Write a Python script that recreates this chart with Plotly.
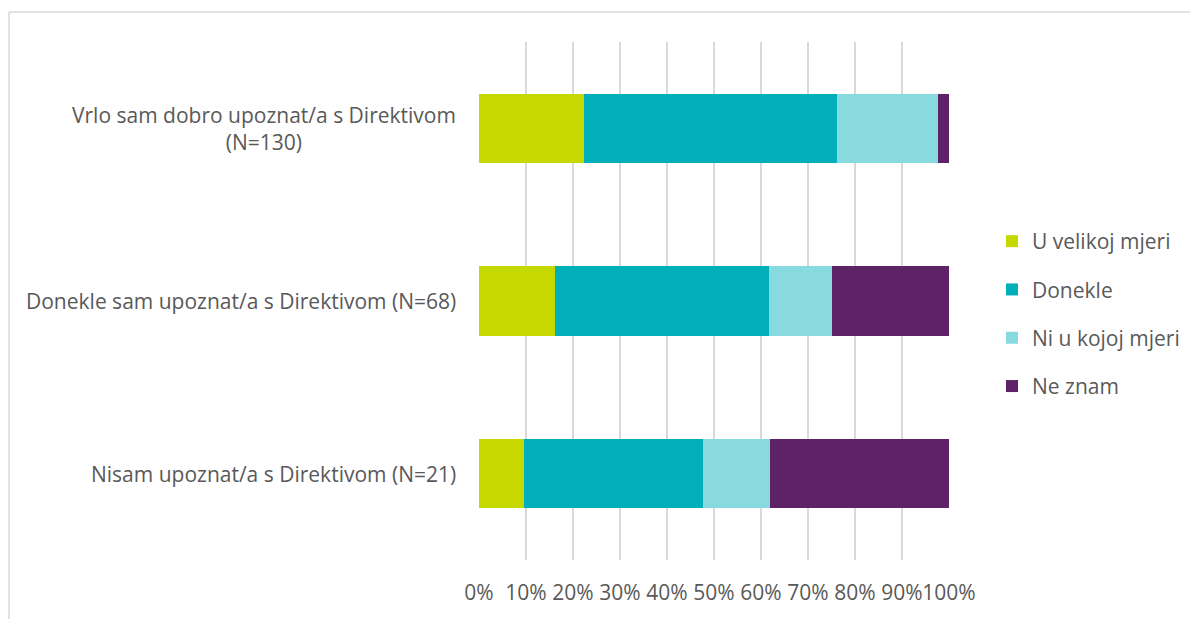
import plotly.graph_objects as go

categories = [
    "Vrlo sam dobro upoznat/a s Direktivom<br>(N=130)",
    "Donekle sam upoznat/a s Direktivom (N=68)",
    "Nisam upoznat/a s Direktivom (N=21)",
]
series_names = ["U velikoj mjeri", "Donekle", "Ni u kojoj mjeri", "Ne znam"]
u_velikoj = [22.3, 16.2, 9.5]
donekle = [53.8, 45.6, 38.1]
ni_u_kojoj = [21.5, 13.2, 14.3]
ne_znam = [2.3, 25.0, 38.1]
colors = ["#C5D900", "#00AFB9", "#88DADF", "#5E2266"]
tick_vals = [0, 10, 20, 30, 40, 50, 60, 70, 80, 90, 100]
tick_text = ["0%", "10%", "20%", "30%", "40%", "50%", "60%", "70%", "80%", "90%", "100%"]

FONT = "Open Sans"
FS = 21
GREY = "#595959"

fig = go.Figure()
for i, (name, vals) in enumerate(zip(series_names, [u_velikoj, donekle, ni_u_kojoj, ne_znam])):
    fig.add_trace(go.Bar(
        y=categories, x=vals, name=name, orientation="h",
        marker=dict(color=colors[i], line=dict(width=0)),
        legendgroup=f"g{i}",
        hoverinfo="x+name",
    ))

# page body has an 8px offset; figure drawn inside it
OFF = 8
W, H = 1198 - OFF, 619 - OFF
L, R, T, B = 479 - OFF, 249, 42 - OFF, 59
pw, ph = W - L - R, H - T - B

def px_to_paper_x(px):
    return (px - OFF - L) / pw

def px_to_paper_y(py):
    return (H - B - (py - OFF)) / ph

for c in categories:
    fig.add_annotation(
        x=px_to_paper_x(458), xref="paper", y=c, yref="y", text=c, showarrow=False,
        xanchor="right", yanchor="middle", align="center",
        font=dict(family=FONT, size=FS, color=GREY),
    )

# outer frame (left and top edges visible)
fig.add_shape(
    type="line", xref="paper", yref="paper",
    x0=px_to_paper_x(9), x1=px_to_paper_x(9),
    y0=px_to_paper_y(619), y1=px_to_paper_y(12),
    line=dict(color="#D9D9D9", width=1.5), layer="below",
)
fig.add_shape(
    type="line", xref="paper", yref="paper",
    x0=px_to_paper_x(9), x1=px_to_paper_x(1198),
    y0=px_to_paper_y(12), y1=px_to_paper_y(12),
    line=dict(color="#D9D9D9", width=1.5), layer="below",
)

fig.update_layout(
    width=W, height=H,
    margin=dict(l=L, r=R, t=T, b=B, autoexpand=False),
    barmode="stack", bargap=0.6,
    plot_bgcolor="white", paper_bgcolor="white",
    font=dict(family=FONT, size=FS, color=GREY),
    showlegend=True,
    legend=dict(
        x=px_to_paper_x(992), xanchor="left",
        y=px_to_paper_y(314), yanchor="middle",
        traceorder="grouped", tracegroupgap=18,
        font=dict(family=FONT, size=FS, color=GREY),
        itemwidth=30,
    ),
    xaxis=dict(
        range=[0, 100], tickvals=tick_vals, ticktext=tick_text,
        showgrid=True, gridcolor="#D9D9D9", gridwidth=1.5,
        zeroline=False, showline=False, ticks="",
        ticklabelstandoff=18, tickangle=0, automargin=False,
        tickfont=dict(family=FONT, size=FS, color=GREY),
        fixedrange=True,
    ),
    yaxis=dict(
        autorange="reversed", showticklabels=False, showgrid=False,
        zeroline=False, showline=False, ticks="", automargin=False,
    ),
)

fig.write_html("out.html")
